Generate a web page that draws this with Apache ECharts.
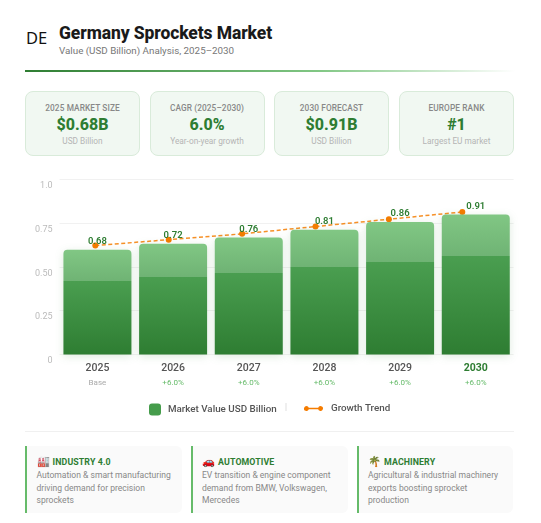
<!DOCTYPE html>
<html lang="en">
<head>
<meta charset="utf-8">
<title>Germany Sprockets Market</title>
<script src="https://cdn.jsdelivr.net/npm/echarts@6/dist/echarts.min.js"></script>
<style>
  html, body { margin: 0; padding: 0; background: #fff; }
  body { width: 541px; height: 523px; position: relative; overflow: hidden;
         font-family: Roboto, "Noto Sans", sans-serif; }
  .abs { position: absolute; white-space: nowrap; }
  #flag { left: 26px; top: 27px; font: 400 16.5px/22px "Noto Sans", sans-serif; color: #111; }
  #title { left: 59px; top: 22px; font-size: 17.5px; line-height: 22px; font-weight: 800; color: #1a1a1a; letter-spacing: -0.1px; }
  #subtitle { left: 59px; top: 44px; font-size: 9.8px; line-height: 14px; color: #777; }
  #rule { left: 25px; top: 70px; width: 490px; height: 2px;
          background: linear-gradient(90deg, #2e7d32, #81c784 60%, rgba(129,199,132,0) 100%); }
  .stat { position: absolute; top: 91px; width: 115px; height: 65px; box-sizing: border-box;
          background: #f1f8f2; border: 1px solid #d9ebda; border-radius: 8px; text-align: center; }
  .stat div { position: absolute; left: 0; right: 0; }
  .stat .k { top: 9.5px; font-size: 8.3px; line-height: 12px; font-weight: 500; color: #888; letter-spacing: .1px; }
  .stat .v { top: 22px; font-size: 16px; line-height: 22px; font-weight: 800; color: #2e7d32; }
  .stat .s { top: 43px; font-size: 8.3px; line-height: 12px; color: #b5b5b5; }
  #divider { left: 25px; top: 431px; width: 489px; height: 1px; background: #f0f0f0; }
  .note { position: absolute; top: 446px; height: 67px; box-sizing: border-box; background: #fafafa;
          border-left: 2.5px solid #66bb6a; border-radius: 0 6px 6px 0; }
  .note .h { position: absolute; left: 9.5px; top: 9px; font-size: 8.8px; line-height: 13px; font-weight: 700;
             color: #2e7d32; letter-spacing: .1px; white-space: nowrap; }
  .note .h span { font-size: 10.5px; margin-right: 3px; }
  .note .b { position: absolute; left: 9.5px; top: 23px; font-size: 8.55px; line-height: 12.5px; color: #888; white-space: pre-line; }
  #chart { position: absolute; left: 0; top: 165px; width: 541px; height: 262px; }
</style>
</head>
<body>
<div class="abs" id="flag">DE</div>
<div class="abs" id="title">Germany Sprockets Market</div>
<div class="abs" id="subtitle">Value (USD Billion) Analysis, 2025–2030</div>
<div class="abs" id="rule"></div>
<div id="stats"></div>
<div id="chart"></div>
<div class="abs" id="divider"></div>
<div id="notes"></div>

<script>
// Market figures, USD billion
const years = ['2025', '2026', '2027', '2028', '2029', '2030'];
const marketValues = [0.68, 0.72, 0.76, 0.81, 0.86, 0.91];
const growthNotes = ['Base', '+6.0%', '+6.0%', '+6.0%', '+6.0%', '+6.0%'];
const scaleTicks = ['0', '0.25', '0.50', '0.75', '1.0'];

// Summary tiles
const statLefts = [25, 149.5, 274, 399];
const statKeys = ['2025 MARKET SIZE', 'CAGR (2025–2030)', '2030 FORECAST', 'EUROPE RANK'];
const statValues = ['$0.68B', '6.0%', '$0.91B', '#1'];
const statSubs = ['USD Billion', 'Year-on-year growth', 'USD Billion', 'Largest EU market'];

// Demand driver notes
const noteBoxes = [[25, 157], [190.5, 157.5], [356.5, 156.5]];
const noteIcons = ['🏭', '🚗', '🌴'];
const noteHeads = ['INDUSTRY 4.0', 'AUTOMOTIVE', 'MACHINERY'];
const noteBodies = [
  'Automation & smart manufacturing\ndriving demand for precision\nsprockets',
  'EV transition & engine component\ndemand from BMW, Volkswagen,\nMercedes',
  'Agricultural & industrial machinery\nexports boosting sprocket\nproduction'
];

document.getElementById('stats').innerHTML = statKeys.map((k, i) =>
  `<div class="stat" style="left:${statLefts[i]}px"><div class="k">${k}</div><div class="v">${statValues[i]}</div><div class="s">${statSubs[i]}</div></div>`
).join('');
document.getElementById('notes').innerHTML = noteHeads.map((h, i) =>
  `<div class="note" style="left:${noteBoxes[i][0]}px;width:${noteBoxes[i][1]}px"><div class="h"><span>${noteIcons[i]}</span>${h}</div><div class="b">${noteBodies[i].replace(/&/g, '&amp;')}</div></div>`
).join('');

const chart = echarts.init(document.getElementById('chart'), null, { renderer: 'canvas' });
const font = 'Roboto, "Noto Sans", sans-serif';
const plotTop = 14;      // 179 on the page
const plotBottom = 262 - 189.5;

const barFill = new echarts.graphic.LinearGradient(0, 0, 0, 1, [
  { offset: 0, color: '#81c784' },
  { offset: 0.3, color: '#6fb374' },
  { offset: 0.3, color: '#4a9e50' },
  { offset: 1, color: '#2e7d32' }
]);

const yearStyle = { fontFamily: font, fontSize: 10.5, fontWeight: 500, color: '#555', lineHeight: 15 };
const legendText = { fontFamily: font, fontSize: 9.8, fontWeight: 500, color: '#555' };
const trendIcon = 'path://M3 0a3 3 0 0 1 2.83 2H17.17a3 3 0 1 1 0 2H5.83A3 3 0 1 1 3 0Z';

chart.setOption({
  animation: false,
  textStyle: { fontFamily: font },
  legend: [
    {
      left: 144, top: 233.5, itemWidth: 12, itemHeight: 12,
      textStyle: { ...legendText, padding: [0, 0, 0, 2] },
      data: [{ name: 'Market Value USD Billion', icon: 'roundRect', itemStyle: { color: '#459c4b' } }]
    },
    {
      left: 299, top: 233.5, itemWidth: 19, itemHeight: 6,
      textStyle: { ...legendText, padding: [0, 0, 0, 3] },
      data: [{ name: 'Growth Trend', icon: trendIcon }]
    }
  ],
  grid: [
    { left: 59.6, right: 27.4, top: plotTop, bottom: plotBottom },
    { left: 95.3, right: 78.7, top: plotTop, bottom: plotBottom }
  ],
  xAxis: [
    {
      type: 'category', gridIndex: 0, data: years,
      axisLine: { show: false }, axisTick: { show: false },
      axisLabel: {
        margin: 6,
        interval: 0,
        formatter: (v, i) => `{${i === years.length - 1 ? 'last' : 'year'}|${v}}\n{${i === 0 ? 'base' : 'up'}|${growthNotes[i]}}`,
        rich: {
          year: yearStyle,
          last: { ...yearStyle, fontWeight: 700, color: '#2e7d32' },
          base: { fontFamily: font, fontSize: 8, color: '#aaa', lineHeight: 15 },
          up: { fontFamily: font, fontSize: 8, color: '#66bb6a', lineHeight: 15 }
        }
      }
    },
    {
      type: 'category', gridIndex: 1, data: years, boundaryGap: false, show: false
    }
  ],
  yAxis: [
    {
      // Printed 0–1.0 scale with its gridlines
      type: 'value', gridIndex: 0, min: 0, max: 1, interval: 0.25,
      axisLine: { show: false }, axisTick: { show: false },
      axisLabel: {
        color: '#bbb', fontSize: 9, margin: 7, verticalAlign: 'top', padding: [2, 0, 0, 0],
        formatter: v => scaleTicks[Math.round(v / 0.25)]
      },
      splitLine: { lineStyle: { color: '#f1f1f1', width: 1 } }
    },
    { type: 'value', gridIndex: 0, min: 0, max: 1.14, show: false, splitLine: { show: false } },
    { type: 'value', gridIndex: 1, min: -0.0664, max: 1.1356, show: false, splitLine: { show: false } }
  ],
  series: [
    {
      name: 'Market Value USD Billion',
      type: 'bar',
      xAxisIndex: 0,
      yAxisIndex: 1,
      data: marketValues,
      barWidth: 68,
      itemStyle: {
        color: barFill,
        borderRadius: [4, 4, 0, 0],
        shadowBlur: 8,
        shadowColor: 'rgba(46,125,50,0.16)',
        shadowOffsetY: 2
      },
      label: {
        show: true, position: 'top', distance: 3,
        formatter: p => p.value.toFixed(2),
        fontFamily: font, fontSize: 9.5, fontWeight: 600, color: '#2e7d32'
      },
      z: 2
    },
    {
      name: 'Growth Trend',
      type: 'line',
      xAxisIndex: 1,
      yAxisIndex: 2,
      data: marketValues,
      symbol: 'circle',
      symbolSize: 6,
      itemStyle: { color: '#f57c00' },
      lineStyle: { color: '#f57c00', width: 1.5, type: [4, 2.5], opacity: 0.85 },
      z: 1
    }
  ],
  graphic: [
    { type: 'rect', left: 285.5, top: 238, shape: { width: 1, height: 8 }, style: { fill: '#e0e0e0' } }
  ]
});
</script>
</body>
</html>
